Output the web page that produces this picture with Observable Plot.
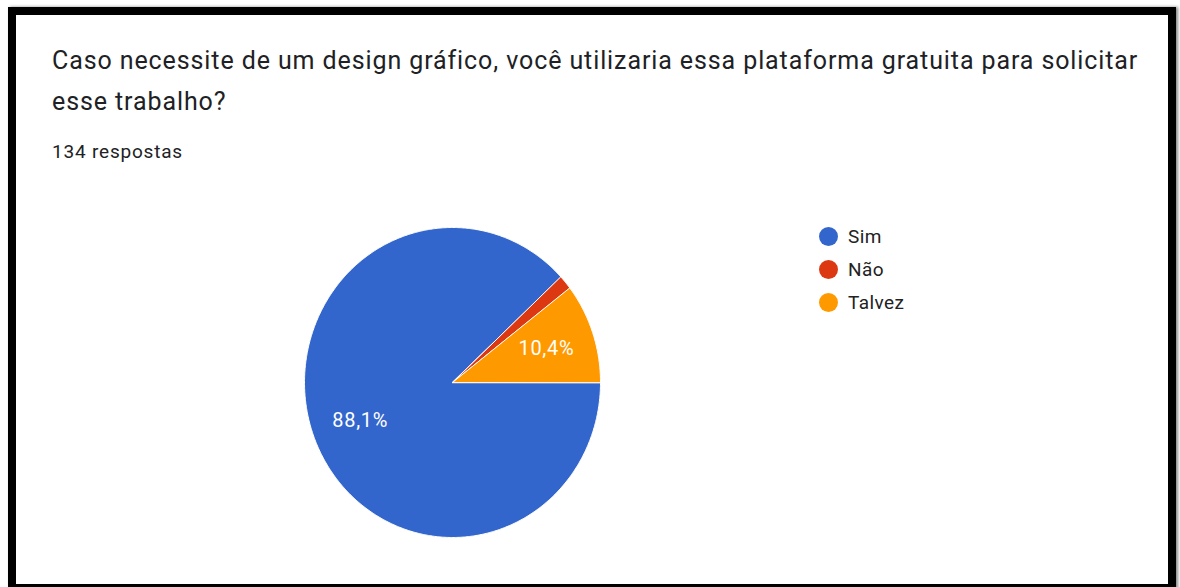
<!DOCTYPE html>
<html><head><meta charset="utf-8">
<script src="https://cdn.jsdelivr.net/npm/d3@7"></script>
<script src="https://cdn.jsdelivr.net/npm/@observablehq/plot@0.6"></script>
<style>
html,body{margin:0;padding:0;background:#fff;}
body{width:1180px;height:587px;overflow:hidden;position:relative;font-family:Roboto,"Noto Sans",sans-serif;color:#202124;}
#frame{position:absolute;left:8px;top:7px;width:1152px;height:569px;border:8px solid #000;background:#fff;box-shadow:2px 0 3px #888;}
#title{position:absolute;left:52px;top:40px;width:1112px;font-size:25px;letter-spacing:0.9px;line-height:41px;color:#202124;}
#count{position:absolute;left:52px;top:143px;font-size:19px;letter-spacing:0.8px;line-height:18px;color:#202124;}
#chart{position:absolute;left:292px;top:217px;}
.lg{position:absolute;left:819px;height:33px;display:flex;align-items:center;font-size:19px;letter-spacing:0.4px;color:#222;}
.lg .sw{width:19px;height:19px;border-radius:50%;margin-right:10px;}
</style>
</head><body>
<div id="frame"></div>
<div id="title">Caso necessite de um design gráfico, você utilizaria essa plataforma gratuita para solicitar esse trabalho?</div>
<div id="count">134 respostas</div>
<div id="chart"></div>
<div id="legend"></div>
<script>
const categories = ["Sim", "Não", "Talvez"];
const counts = [118, 2, 14];
const percentLabels = ["88,1%", "1,5%", "10,4%"];
const colors = ["#3366cc", "#dc3912", "#ff9900"];

const total = d3.sum(counts);
const slicePts = [];
const labelPts = [];
let acc = 0;
categories.forEach((c, i) => {
  const a0 = -acc / total * 2 * Math.PI;
  acc += counts[i];
  const a1 = -acc / total * 2 * Math.PI;
  slicePts.push({name: c, x: 0, y: 0});
  const n = Math.max(2, Math.ceil(Math.abs(a1 - a0) / (Math.PI / 360)));
  for (let k = 0; k <= n; k++) {
    const a = a0 + (a1 - a0) * k / n;
    slicePts.push({name: c, x: Math.cos(a), y: Math.sin(a)});
  }
  if (counts[i] / total > 0.05) {
    const m = (a0 + a1) / 2;
    labelPts.push({text: percentLabels[i], x: 0.67 * Math.cos(m), y: 0.67 * Math.sin(m)});
  }
});

const chart = Plot.plot({
  width: 320, height: 330, margin: 0,
  style: {background: "transparent", overflow: "visible", letterSpacing: "0.7px"},
  x: {domain: [-1, 1], range: [12, 308], axis: null},
  y: {domain: [-1, 1], range: [320, 10], axis: null},
  color: {domain: categories, range: colors},
  marks: [
    Plot.line(slicePts, {x: "x", y: "y", z: "name", fill: "name", stroke: "white", strokeWidth: 1, curve: "linear-closed"}),
    Plot.text(labelPts, {x: "x", y: "y", text: "text", fill: "white", fontSize: 20, fontFamily: "Roboto"})
  ]
});
document.getElementById("chart").appendChild(chart);

const legend = document.getElementById("legend");
categories.forEach((c, i) => {
  const row = document.createElement("div");
  row.className = "lg";
  row.style.top = (220 + 33 * i) + "px";
  const sw = document.createElement("div");
  sw.className = "sw";
  sw.style.background = colors[i];
  const t = document.createElement("span");
  t.textContent = c;
  row.appendChild(sw); row.appendChild(t);
  legend.appendChild(row);
});
</script>
</body></html>
